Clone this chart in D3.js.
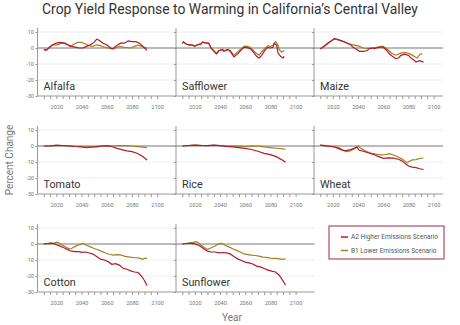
<!DOCTYPE html>
<html lang="en">
<head>
    <meta charset="UTF-8">
    <title>Crop Yield Response to Warming</title>
    <script src="https://d3js.org/d3.v7.min.js"></script>
    <style>
        body {
            margin: 0;
            background: #fff;
            font-family: Roboto, Arial, sans-serif;
        }
        svg { display: block; }
        .tick text { fill: #777; font-size: 5.6px; font-family: Roboto, Arial, sans-serif; }
        .tick line { stroke: #999; }
        .domain { stroke: #999; }
        .grid { stroke: #eee; }
        .zero { stroke: #777; }
        .series { fill: none; stroke-width: 1.2px; }
    </style>
</head>
<body>
<svg width="460" height="325"></svg>
<script>
    // values, [year, percent change]
    const alfalfaA2 = [[2010,-1],[2012,-1.5],[2014,0],[2017,2],[2020,3],[2023,3.5],[2026,3],[2029,2],[2032,1],[2035,0.5],[2038,0],[2041,0],[2044,1],[2047,2],[2050,3.5],[2052,5.5],[2054,4.8],[2057,3],[2060,2],[2063,0],[2065,-0.5],[2068,1.5],[2071,3],[2074,3],[2077,4.5],[2080,4],[2083,4],[2086,3],[2088,1.5],[2090,0],[2092,-1.5]];
    const alfalfaB1 = [[2010,-1],[2012,-1],[2015,1],[2018,2],[2021,2],[2024,3],[2027,3],[2029,2],[2031,0.8],[2034,2.5],[2037,3.5],[2040,3.5],[2043,2.5],[2046,1.5],[2049,1],[2052,2],[2055,1.5],[2058,0.5],[2061,0],[2064,-0.5],[2067,0],[2070,1],[2073,0.5],[2076,0.3],[2079,0],[2082,1],[2085,1.8],[2088,1],[2090,0.5],[2092,0]];

    const safflowerA2 = [[2010,3],[2011,3.7],[2013,2.5],[2016,1.7],[2017,2],[2020,1],[2022,2],[2025,2.5],[2026,3.7],[2029,3],[2031,3],[2033,-0.4],[2035,-2],[2037,-3.7],[2038,-3],[2039,-1.7],[2042,-1],[2043,-2],[2046,-1],[2048,-2],[2051,-5.6],[2054,-3.7],[2056,-2],[2059,0.4],[2061,0.4],[2064,-0.4],[2067,-3],[2069,-5.2],[2071,-6.2],[2073,-4.6],[2076,-1],[2078,0.4],[2080,0],[2082,0.4],[2083,3],[2085,1.7],[2086,-3],[2088,-5.2],[2090,-6.2],[2091,-5.2]];
    const safflowerB1 = [[2010,3],[2011,3.7],[2013,2.5],[2016,2],[2017,2.2],[2020,1.3],[2022,2.2],[2025,2.7],[2026,3.7],[2029,3.2],[2031,3],[2033,0],[2035,-1.5],[2037,-3.2],[2038,-2.5],[2039,-1.5],[2042,-0.8],[2043,-1.7],[2046,-0.8],[2048,-1.5],[2051,-4.5],[2054,-2.5],[2056,-1],[2059,1],[2061,1.2],[2064,0.5],[2067,-2],[2069,-3.5],[2071,-4.5],[2073,-2.5],[2076,0],[2078,1.5],[2080,1],[2082,1.5],[2084,4],[2086,2],[2087,-1],[2089,-2.5],[2091,-1.5]];

    const maizeA2 = [[2010,-0.6],[2011,0],[2014,1.7],[2016,3.1],[2019,4.6],[2021,5.8],[2023,5.6],[2026,4.8],[2028,4.2],[2031,3.1],[2034,2.1],[2036,0.4],[2039,-1],[2041,-2.1],[2044,-2.1],[2047,-1.7],[2049,-0.4],[2052,0],[2053,-0.4],[2056,0.4],[2059,0.6],[2060,0.4],[2063,-1.7],[2065,-3.8],[2068,-5.6],[2070,-6.7],[2072,-6.3],[2074,-4.6],[2077,-3.8],[2080,-4.6],[2082,-6.3],[2085,-7.9],[2086,-8.8],[2089,-7.9],[2092,-8.8]];
    const maizeB1 = [[2010,-0.5],[2012,0.3],[2015,2],[2018,4],[2021,5.6],[2024,5],[2027,4.3],[2030,3.5],[2033,2.6],[2036,2],[2039,1.5],[2041,1],[2044,0],[2047,-0.3],[2050,0],[2053,0.3],[2056,0.5],[2058,1],[2060,1],[2062,0],[2065,-2],[2067,-3.5],[2070,-4.5],[2073,-3.5],[2076,-2.8],[2079,-3],[2082,-4],[2085,-5.5],[2087,-6.3],[2089,-4],[2091,-3.5]];

    const tomatoA2 = [[2010,0],[2015,0],[2020,0.5],[2025,0.3],[2030,0],[2035,-0.3],[2040,-0.5],[2044,-1.1],[2048,-0.7],[2052,-0.5],[2056,0],[2060,0.2],[2064,-0.3],[2068,-1.5],[2072,-2.3],[2076,-3],[2080,-3.5],[2084,-4.5],[2088,-6.3],[2092,-8.7]];
    const tomatoB1 = [[2010,0],[2015,0.1],[2020,0.3],[2025,0.2],[2030,0.1],[2035,-0.2],[2040,-0.4],[2045,-0.5],[2050,-0.3],[2055,0],[2060,0.2],[2065,0],[2070,0.3],[2075,0.2],[2080,0],[2085,-0.4],[2090,-0.8],[2092,-1]];

    const riceA2 = [[2010,0],[2015,0.3],[2020,0.6],[2025,0.3],[2030,0.2],[2035,0.5],[2040,0.2],[2045,-0.2],[2050,-0.5],[2055,-1],[2060,-1.5],[2065,-2.2],[2070,-3.3],[2075,-4.6],[2080,-5.4],[2085,-6.8],[2090,-9],[2092,-10.2]];
    const riceB1 = [[2010,0],[2015,0.3],[2020,0.6],[2025,0.4],[2030,0.3],[2035,0.4],[2040,0.3],[2045,0.1],[2050,0],[2055,-0.1],[2060,-0.3],[2065,-0.1],[2070,0],[2075,-0.6],[2080,-1],[2085,-1.4],[2090,-1.8],[2092,-1.9]];

    const wheatA2 = [[2010,0.5],[2014,0.2],[2018,-0.3],[2022,-0.8],[2025,-1.8],[2028,-2.8],[2031,-2.7],[2034,-2.3],[2037,-1.5],[2039,-0.8],[2041,-2.7],[2044,-3.3],[2048,-4.2],[2052,-5.2],[2056,-6.5],[2060,-7.7],[2064,-7.4],[2068,-7.6],[2072,-8.3],[2075,-9.4],[2078,-11.2],[2080,-12.5],[2083,-13.2],[2086,-13.5],[2089,-14.2],[2092,-14.7]];
    const wheatB1 = [[2010,0.5],[2014,0],[2018,0],[2022,-0.5],[2025,-1.2],[2028,-2.5],[2030,-3.5],[2033,-3.2],[2036,-2.2],[2038,-1],[2040,0],[2043,-1.8],[2046,-3.2],[2050,-4.4],[2054,-5],[2058,-5.6],[2062,-5.4],[2065,-4.8],[2068,-5.6],[2071,-6.6],[2075,-8.2],[2079,-10.4],[2081,-9.5],[2083,-8.7],[2086,-8.5],[2089,-7.8],[2092,-7.5]];

    const cottonA2 = [[2010,0],[2013,0.3],[2016,0.5],[2018,0.4],[2020,-0.5],[2023,-1.3],[2026,-2.3],[2029,-3.5],[2032,-4.5],[2035,-4.8],[2038,-4.8],[2040,-5.2],[2043,-5],[2046,-5.6],[2049,-6.3],[2052,-7.8],[2055,-9.5],[2058,-10],[2061,-11],[2064,-12.7],[2067,-12.3],[2070,-13.2],[2073,-15.2],[2076,-15.8],[2079,-16.8],[2082,-17.5],[2085,-17.8],[2088,-20.5],[2090,-23],[2092,-26]];
    const cottonB1 = [[2010,0],[2013,0.2],[2016,0.4],[2018,0.2],[2020,1.2],[2022,0.6],[2025,-0.8],[2028,-2],[2030,-3],[2032,-2.8],[2035,-1.5],[2038,-0.4],[2041,0.3],[2044,-0.8],[2047,-1.8],[2050,-2.8],[2053,-3.6],[2056,-4.6],[2059,-5.6],[2062,-6.4],[2065,-7],[2068,-6.7],[2071,-6.8],[2074,-7.6],[2077,-8],[2080,-8.4],[2083,-8.6],[2086,-8.8],[2088,-9.6],[2090,-9],[2092,-9]];

    const sunflowerA2 = [[2010,0],[2013,0.3],[2016,0.5],[2019,0.2],[2021,-0.2],[2024,-1.2],[2027,-3],[2030,-4.5],[2033,-5],[2036,-5],[2039,-5.5],[2042,-5.3],[2045,-5.6],[2048,-6.2],[2051,-7.8],[2054,-9.3],[2057,-10.3],[2060,-11.3],[2063,-11.8],[2066,-12.5],[2069,-13.8],[2072,-14.3],[2075,-15.3],[2078,-16.3],[2081,-17],[2084,-17.5],[2087,-19.5],[2090,-23],[2092,-25.8]];
    const sunflowerB1 = [[2010,0],[2013,0.3],[2016,0.5],[2019,1],[2021,1.5],[2023,0.6],[2025,-0.8],[2028,-2.5],[2030,-3.5],[2033,-2.3],[2036,-1.2],[2039,0.2],[2041,0.4],[2044,-0.8],[2047,-1.8],[2050,-3],[2053,-4],[2056,-5],[2059,-6.2],[2062,-6.6],[2065,-7],[2068,-7.2],[2071,-7.6],[2074,-8.2],[2077,-8.4],[2080,-8.8],[2083,-9],[2086,-9.2],[2089,-9.6],[2092,-9.3]];

    const crops = ["Alfalfa", "Safflower", "Maize", "Tomato", "Rice", "Wheat", "Cotton", "Sunflower"];
    const seriesA2 = [alfalfaA2, safflowerA2, maizeA2, tomatoA2, riceA2, wheatA2, cottonA2, sunflowerA2];
    const seriesB1 = [alfalfaB1, safflowerB1, maizeB1, tomatoB1, riceB1, wheatB1, cottonB1, sunflowerB1];
    const yTicks = [10, 0, -10, -20, -30];
    const xTicks = d3.range(2010, 2101, 5);
    const xLabels = [2020, 2040, 2060, 2080, 2100];
    const legendLabels = ["A2 Higher Emissions Scenario", "B1 Lower Emissions Scenario"];

    const colorA2 = "#b5182d",
        colorB1 = "#a1801f";

    const svg = d3.select("svg");

    // panel grid
    const colLeft = [37.5, 176, 314],
        rowTop = [28, 126, 224],
        panelW = 138.5,
        panelH = 68;

    const x = d3.scaleLinear().domain([2005, 2115]).range([0, panelW]);
    const y = d3.scaleLinear().domain([-30, 12.5]).range([panelH, 0]);

    const line = d3.line()
        .x(d => x(d[0]))
        .y(d => y(d[1]));

    crops.forEach((crop, i) => {
        const col = i % 3, row = Math.floor(i / 3);
        const w = col === 2 ? 129 : panelW;
        const g = svg.append("g")
            .attr("transform", `translate(${colLeft[col]},${rowTop[row]})`);

        // faint grid
        g.selectAll(".grid")
            .data([10, -10, -20])
            .enter().append("line")
            .attr("class", "grid")
            .attr("x1", 0).attr("x2", w)
            .attr("y1", d => y(d)).attr("y2", d => y(d));

        // x axis
        const xAxis = g.append("g")
            .attr("transform", `translate(0,${y(-30)})`)
            .call(d3.axisBottom(x).tickValues(xTicks).tickSize(3).tickSizeOuter(0)
                .tickFormat(d => xLabels.includes(d) ? d : ""));
        xAxis.select(".domain").attr("d", `M0,0H${w}`);
        xAxis.selectAll(".tick text").attr("dy", "1.3em");

        // y axis
        const yAxis = g.append("g")
            .call(d3.axisLeft(y).tickValues(yTicks).tickSize(2).tickSizeOuter(0).tickPadding(1.5)
                .tickFormat(d => col === 0 ? d : ""));
        yAxis.select(".domain").attr("d", `M0,${y(12.5)}V${y(-30)}`);

        // zero line
        g.append("line")
            .attr("class", "zero")
            .attr("x1", 0).attr("x2", w)
            .attr("y1", y(0)).attr("y2", y(0));

        g.append("path")
            .datum(seriesB1[i])
            .attr("class", "series")
            .attr("stroke", colorB1)
            .attr("d", line);

        g.append("path")
            .datum(seriesA2[i])
            .attr("class", "series")
            .attr("stroke", colorA2)
            .attr("d", line);

        g.append("text")
            .attr("x", 6)
            .attr("y", y(-30) - 6.5)
            .attr("fill", "#333")
            .style("font-size", "10.8px")
            .text(crop);
    });

    // title and axis titles
    svg.append("text")
        .attr("x", 230).attr("y", 14)
        .attr("text-anchor", "middle")
        .attr("fill", "#333")
        .style("font-size", "13.9px")
        .text("Crop Yield Response to Warming in California’s Central Valley");

    svg.append("text")
        .attr("transform", "translate(13,160) rotate(-90)")
        .attr("text-anchor", "middle")
        .attr("fill", "#777")
        .style("font-size", "10px")
        .text("Percent Change");

    svg.append("text")
        .attr("x", 232).attr("y", 321)
        .attr("text-anchor", "middle")
        .attr("fill", "#777")
        .style("font-size", "10px")
        .text("Year");

    // legend
    const legend = svg.append("g").attr("transform", "translate(329,226)");
    legend.append("rect")
        .attr("width", 115).attr("height", 33)
        .attr("fill", "#fff")
        .attr("stroke", "#a3293a")
        .attr("stroke-width", 1);

    legendLabels.forEach((label, i) => {
        const ly = 11 + i * 13.5;
        legend.append("line")
            .attr("x1", 12).attr("x2", 19)
            .attr("y1", ly).attr("y2", ly)
            .attr("stroke", i === 0 ? colorA2 : colorB1)
            .attr("stroke-width", 1.5);
        legend.append("text")
            .attr("x", 22).attr("y", ly)
            .attr("dy", "0.35em")
            .attr("fill", "#555")
            .style("font-size", "6.5px")
            .text(label);
    });
</script>
</body>
</html>
